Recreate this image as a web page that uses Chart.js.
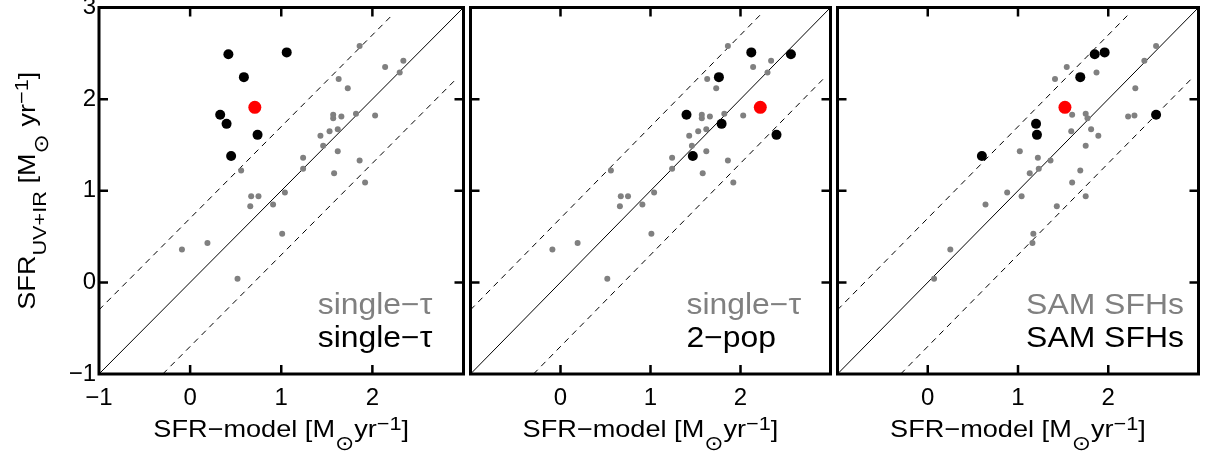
<!DOCTYPE html>
<html>
<head>
<meta charset="utf-8">
<script src="https://cdn.jsdelivr.net/npm/chart.js@4.4.1/dist/chart.umd.min.js"></script>
<style>
  html, body { margin: 0; padding: 0; background: #fff; }
  #wrap { position: relative; width: 1208px; height: 455px; overflow: hidden; }
  canvas { position: absolute; top: 0; }
</style>
</head>
<body>
<div id="wrap">
  <canvas id="c1" width="470" height="455" style="left:0px"></canvas>
  <canvas id="c2" width="373" height="455" style="left:464px"></canvas>
  <canvas id="c3" width="374" height="455" style="left:831px"></canvas>
</div>
<script>
// tick positions and labels (same for x and y)
const tickValues = [-1, 0, 1, 2, 3];
const yTickLabels = ['\u22121', '0', '1', '2', '3'];
const xTickLabelsFirst = ['\u22121', '0', '1', '2', ''];
const xTickLabelsOther = ['', '0', '1', '2', ''];

// SFR from UV+IR for the bright sample (black) and the stacked one (red)
const brightUvIr = [2.49, 2.51, 2.24, 1.83, 1.73, 1.61, 1.38];
const stackUvIr = [1.91];
// model SFR for the bright sample, per fit
const brightSingleTau = [0.42, 1.06, 0.59, 0.33, 0.40, 0.74, 0.45];
const brightTwoPop    = [2.56, 2.12, 1.76, 1.40, 1.79, 2.40, 1.47];
const brightSam       = [1.85, 1.96, 1.69, 2.53, 1.20, 1.21, 0.60];
const stackSingleTau = [0.71];
const stackTwoPop    = [2.22];
const stackSam       = [1.52];

// faint sample (grey)
const faintUvIr = [2.58, 2.35, 2.42, 2.29, 2.22, 2.12, 1.83, 1.79, 1.81, 1.84, 1.82,
                   1.60, 1.65, 1.67, 1.49, 1.43, 1.36, 1.24, 1.33, 1.19, 1.09, 1.22,
                   0.94, 0.94, 0.83, 0.85, 0.98, 0.53, 0.43, 0.36, 0.04];
const faintSingleTau = [1.86, 2.14, 2.34, 2.30, 1.63, 1.73, 1.57, 1.57, 1.66, 1.82, 2.03,
                        1.43, 1.53, 1.62, 1.46, 1.62, 1.24, 1.24, 1.86, 1.58, 1.92, 0.56,
                        0.67, 0.75, 0.66, 0.91, 1.04, 1.01, 0.19, -0.09, 0.52];
const faintSam = [2.53, 1.54, 2.40, 1.87, 1.41, 2.30, 1.60, 1.77, 2.22, 1.75, 2.29,
                  1.89, 1.59, 1.81, 1.75, 1.02, 1.22, 1.23, 1.36, 1.13, 1.60, 1.69,
                  1.75, 1.04, 1.43, 0.64, 0.88, 1.17, 1.16, 0.25, 0.07];

// one-to-one line and the +-0.7 dex band
const oneToOneX = [-1, 3];
const upperBandX = [-1, 2.22];
const lowerBandX = [-0.3, 2.92];
const bandOffset = 0.7;

// legend text per panel: [grey, black]
const panelLabels = [
  ['single\u2212\u03c4', 'single\u2212\u03c4'],
  ['single\u2212\u03c4', '2\u2212pop'],
  ['SAM SFHs', 'SAM SFHs']
];
const labelX = [1.40, 1.40, 1.09];
const labelY = [-0.34, -0.71];

const GREY = '#808080';
const FONT = '"Liberation Sans", Arial, sans-serif';

function pts(xs, ys) {
  return xs.map((x, i) => ({ x: x, y: ys[i] }));
}

// text built from normal / sub / sup pieces, centred on (cx, cy)
// k = size factor of a piece, dy = baseline shift (fraction of size)
function drawRich(ctx, parts, cx, cy, size, angle, stretch) {
  ctx.save();
  ctx.translate(cx, cy);
  ctx.rotate(angle);
  ctx.scale(stretch, 1);
  ctx.textBaseline = 'alphabetic';
  ctx.textAlign = 'left';
  ctx.fillStyle = '#000';
  const fontOf = p => (size * (p.k || 1)) + 'px ' + (p.f || FONT);
  let total = 0;
  const widths = parts.map(p => {
    ctx.font = fontOf(p);
    const w = ctx.measureText(p.t).width;
    total += w;
    return w;
  });
  let x = -total / 2;
  parts.forEach((p, i) => {
    ctx.font = fontOf(p);
    ctx.fillText(p.t, x, size * (p.dy || 0));
    x += widths[i];
  });
  ctx.restore();
}

const SUN = { t: '\u2299', k: 0.85, dy: 0.55, f: '"DejaVu Sans", sans-serif' };
const xTitle = [
  { t: 'SFR\u2212model [M' }, SUN, { t: 'yr' },
  { t: '\u22121', k: 0.8, dy: -0.3 }, { t: ']' }
];
const yTitle = [
  { t: 'SFR' }, { t: 'UV+IR', k: 0.8, dy: 0.45 }, { t: ' [M' }, SUN,
  { t: ' yr' }, { t: '\u22121', k: 0.8, dy: -0.3 }, { t: ']' }
];

// frame, inward ticks, axis titles and the two-line legend
const framePlugin = {
  id: 'frame',
  afterDraw(chart, args, opts) {
    const ctx = chart.ctx;
    const a = chart.chartArea;
    const xs = chart.scales.x, ys = chart.scales.y;
    ctx.save();
    ctx.strokeStyle = '#000';
    ctx.lineWidth = 2.5;
    tickValues.slice(1, 4).forEach(v => {
      const px = xs.getPixelForValue(v);
      const py = ys.getPixelForValue(v);
      ctx.beginPath();
      ctx.moveTo(px, a.bottom); ctx.lineTo(px, a.bottom - 9);
      ctx.moveTo(px, a.top); ctx.lineTo(px, a.top + 9);
      ctx.moveTo(a.left, py); ctx.lineTo(a.left + 9, py);
      ctx.moveTo(a.right, py); ctx.lineTo(a.right - 9, py);
      ctx.stroke();
    });
    ctx.lineWidth = 3;
    ctx.strokeRect(a.left, a.top, a.right - a.left, a.bottom - a.top);

    drawRich(ctx, xTitle, (a.left + a.right) / 2, 437, 24, 0, 1.13);
    if (opts.yTitle) {
      drawRich(ctx, yTitle, 35, (a.top + a.bottom) / 2, 24, -Math.PI / 2, 1.13);
    }

    ctx.font = '29px ' + FONT;
    ctx.textAlign = 'left';
    ctx.textBaseline = 'alphabetic';
    const lx = xs.getPixelForValue(opts.labelX);
    [GREY, '#000'].forEach((col, i) => {
      ctx.save();
      ctx.translate(lx, ys.getPixelForValue(labelY[i]));
      ctx.scale(1.1, 1);
      ctx.fillStyle = col;
      ctx.fillText(opts.labels[i], 0, 0);
      ctx.restore();
    });
    ctx.restore();
  }
};

function makePanel(id, idx, brightX, stackX, faintX, pad, showY) {
  const xLabels = idx === 0 ? xTickLabelsFirst : xTickLabelsOther;
  return new Chart(document.getElementById(id), {
    type: 'scatter',
    data: {
      datasets: [
        { data: pts(stackX, stackUvIr), pointRadius: 6.5, backgroundColor: '#ff0000',
          borderWidth: 0, order: 0 },
        { data: pts(brightX, brightUvIr), pointRadius: 5, backgroundColor: '#000',
          borderWidth: 0, order: 1 },
        { data: pts(faintX, faintUvIr), pointRadius: 3, backgroundColor: GREY,
          borderWidth: 0, order: 2 },
        { data: pts(oneToOneX, oneToOneX), showLine: true, pointRadius: 0,
          borderColor: '#000', borderWidth: 1, order: 3 },
        { data: pts(upperBandX, upperBandX.map(x => x + bandOffset)), showLine: true,
          pointRadius: 0, borderColor: '#000', borderWidth: 1, borderDash: [6, 5], order: 3 },
        { data: pts(lowerBandX, lowerBandX.map(x => x - bandOffset)), showLine: true,
          pointRadius: 0, borderColor: '#000', borderWidth: 1, borderDash: [6, 5], order: 3 }
      ]
    },
    options: {
      responsive: false,
      animation: false,
      events: [],
      layout: { padding: pad },
      plugins: {
        legend: { display: false },
        tooltip: { enabled: false },
        frame: { yTitle: showY, labels: panelLabels[idx], labelX: labelX[idx] }
      },
      scales: {
        x: {
          type: 'linear', min: -1, max: 3,
          grid: { display: false, drawTicks: false },
          border: { display: false },
          afterBuildTicks: s => { s.ticks = tickValues.map(v => ({ value: v })); },
          afterFit: s => { s.height = 81; s.paddingLeft = 0; s.paddingRight = 0; },
          ticks: {
            autoSkip: false, maxRotation: 0, padding: 10, color: '#000',
            font: { family: FONT, size: 24 },
            callback: (v, i) => xLabels[i]
          }
        },
        y: {
          type: 'linear', min: -1, max: 3, display: showY,
          grid: { display: false, drawTicks: false },
          border: { display: false },
          afterBuildTicks: s => { s.ticks = tickValues.map(v => ({ value: v })); },
          afterFit: s => {
            s.width = showY ? 99 : 0;
            s.paddingTop = 0; s.paddingBottom = 0;
          },
          ticks: {
            autoSkip: false, padding: 3, color: '#000',
            font: { family: FONT, size: 24 },
            callback: (v, i) => yTickLabels[i]
          }
        }
      }
    },
    plugins: [framePlugin]
  });
}

makePanel('c1', 0, brightSingleTau, stackSingleTau, faintSingleTau,
  { left: 0, right: 3.5, top: 7.5, bottom: 0 }, true);
makePanel('c2', 1, brightTwoPop, stackTwoPop, faintSingleTau,
  { left: 2.5, right: 3, top: 7.5, bottom: 0 }, false);
makePanel('c3', 2, brightSam, stackSam, faintSam,
  { left: 3, right: 3.5, top: 7.5, bottom: 0 }, false);
</script>
</body>
</html>
